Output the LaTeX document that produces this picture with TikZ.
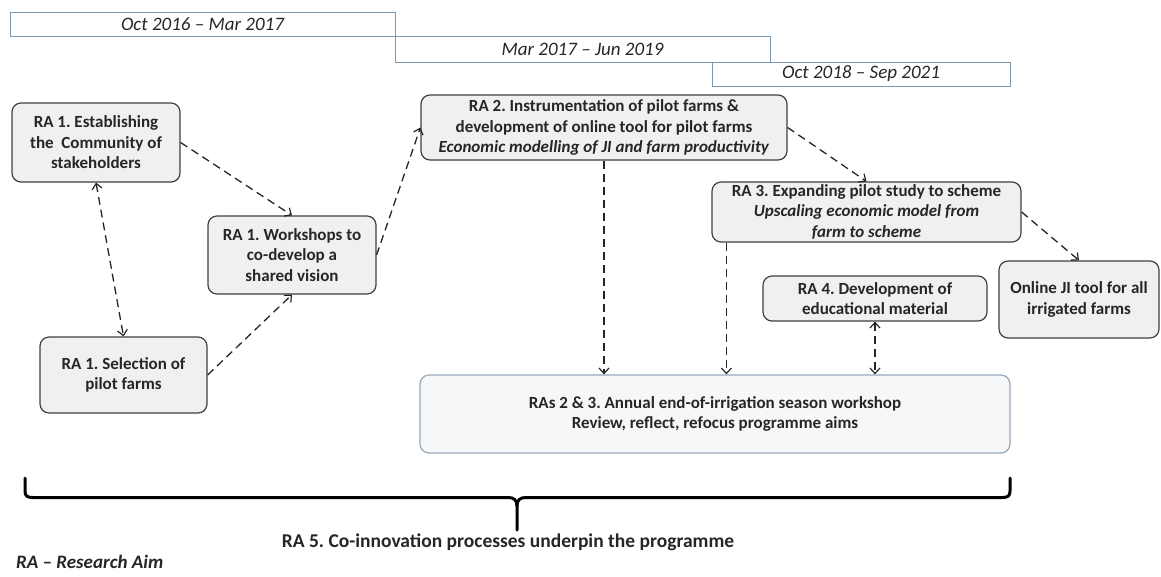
\documentclass[tikz,border=0pt]{standalone}
\usepackage{fontspec}
\setmainfont{Carlito}
\usepackage{xcolor}
\usepackage{tikz}
\usetikzlibrary{arrows.meta}
\frenchspacing

\definecolor{boxfill}{HTML}{F0F0F0}
\definecolor{boxline}{HTML}{404040}
\definecolor{barline}{HTML}{7D97B0}
\definecolor{meetfill}{HTML}{F5F7F9}
\definecolor{meetline}{HTML}{98A9BA}
\definecolor{inkgray}{HTML}{262626}

\begin{document}
\begin{tikzpicture}[x=1pt,y=-1pt,
        every node/.style={text=inkgray},
        aimbox/.style={draw=boxline, fill=boxfill, line width=1.2pt, rounded corners=9pt,
            align=center, inner sep=0pt, font=\fontsize{17}{20.5}\selectfont\bfseries},
        meetbox/.style={aimbox, draw=meetline, fill=meetfill},
        periodbar/.style={draw=barline, fill=white, line width=1pt, inner sep=0pt,
            font=\fontsize{19}{21}\selectfont\itshape},
        link/.style={draw=inkgray, line width=1.3pt, dash pattern=on 8pt off 5pt,
            -{Straight Barb[length=5.5pt,width=10pt,line width=1.2pt]}},
        twoway/.style={link, {Straight Barb[length=5.5pt,width=10pt,line width=1.2pt]}-{Straight Barb[length=5.5pt,width=10pt,line width=1.2pt]}},
        brace/.style={draw=black, line width=3pt, line cap=round, line join=round}]
                \useasboundingbox (0,0) rectangle (1161,576);
                % time line
                \node [periodbar, minimum width=385pt, minimum height=24pt] (bara) at (202.5,24) {Oct 2016 -- Mar 2017};
                \node [periodbar, minimum width=375pt, minimum height=26pt] (barb) at (582.5,49) {Mar 2017 -- Jun 2019};
                \node [periodbar, minimum width=298pt, minimum height=24pt] (barc) at (861,74) {Oct 2018 -- Sep 2021};
                % research aims
                \node [aimbox, minimum width=168pt, minimum height=79pt] (est) at (96,142.5)
                    {RA 1. Establishing\\the~~Community of\\stakeholders};
                \node [aimbox, minimum width=168pt, minimum height=78pt] (work) at (292,255)
                    {RA 1. Workshops to\\co-develop a\\shared vision};
                \node [aimbox, minimum width=167pt, minimum height=76pt] (sel) at (123.5,375)
                    {RA 1. Selection of\\pilot farms};
                \node [aimbox, minimum width=366pt, minimum height=65pt] (ra2) at (604,127.5)
                    {RA 2. Instrumentation of pilot farms \&\\development of online tool for pilot farms\\\textit{Economic modelling of JI and farm productivity}};
                \node [aimbox, minimum width=309pt, minimum height=60pt] (ra3) at (866.5,212)
                    {RA 3. Expanding pilot study to scheme\\\textit{Upscaling economic model from}\\\textit{farm to scheme}};
                \node [aimbox, minimum width=224pt, minimum height=45pt] (ra4) at (875,298.5)
                    {RA 4. Development of\\educational material};
                \node [aimbox, minimum width=160pt, minimum height=77pt] (online) at (1079,299.5)
                    {Online JI tool for all\\irrigated farms};
                \node [meetbox, minimum width=590pt, minimum height=78pt] (annual) at (715,414)
                    {RAs 2 \& 3. Annual end-of-irrigation season workshop\\Review, reflect, refocus programme aims};
                % connectors
                \draw [link] (est.east) -- (work.north);
                \draw [twoway] (est.south) -- (sel.north);
                \draw [link] (sel.east) -- (work.south);
                \draw [link] (work.east) -- (ra2.west);
                \draw [link] (ra2.east) -- (ra3.north);
                \draw [link] (ra3.east) -- (online.north);
                \draw [link] (ra2.south) -- (ra2.south |- annual.north);
                \draw [link] ([xshift=15pt]ra3.south west) -- ([xshift=15pt]ra3.south west |- annual.north);
                \draw [twoway] (ra4.south) -- (ra4.south |- annual.north);
                % brace under the programme
                \draw [brace] (25,478) -- (25,491) .. controls (25,496) and (27,497.5) .. (33,497.5)
                    -- (508,497.5) .. controls (514,497.5) and (517,500) .. (517,506) -- (517,530);
                \draw [brace] (1010,478) -- (1010,491) .. controls (1010,496) and (1008,497.5) .. (1002,497.5)
                    -- (526,497.5) .. controls (520,497.5) and (517,500) .. (517,506);
                \node [font=\fontsize{19.5}{22}\selectfont\bfseries] (underpin) at (508,542)
                    {RA 5. Co-innovation processes underpin the programme};
                \node [anchor=west, inner sep=0pt, font=\fontsize{19}{22}\selectfont\bfseries\itshape] (key) at (16,562)
                    {RA -- Research Aim};
\end{tikzpicture}
\end{document}
